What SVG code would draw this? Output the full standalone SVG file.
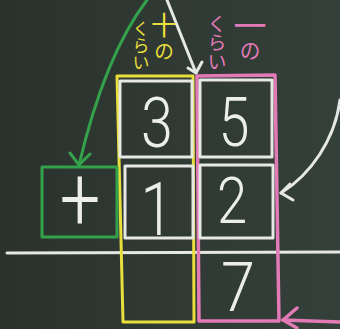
<svg xmlns="http://www.w3.org/2000/svg" width="340" height="329" viewBox="0 0 340 329">
<defs>
<linearGradient id="board" x1="0" y1="0" x2="1" y2="0">
<stop offset="0" stop-color="#2b322e"/>
<stop offset="0.5" stop-color="#303934"/>
<stop offset="1" stop-color="#34403a"/>
</linearGradient>
</defs>
<style>
.w{fill:none;stroke:#e6e8e4;stroke-width:3;stroke-linecap:round;stroke-linejoin:round}
.y{fill:none;stroke:#e9df3c;stroke-width:3;stroke-linejoin:round}
.p{fill:none;stroke:#e27ab6;stroke-width:3.5;stroke-linejoin:round;stroke-linecap:round}
.g{fill:none;stroke:#34a24a;stroke-width:3;stroke-linecap:round;stroke-linejoin:round}
.d{font-family:Roboto,"Open Sans","Liberation Sans",sans-serif;font-weight:300;fill:#eceee9;text-anchor:middle}
.jy{font-family:"Noto Sans CJK JP",sans-serif;fill:#e9df3c}
.jp{font-family:"Noto Sans CJK JP",sans-serif;fill:#e27ab6}
.v{writing-mode:vertical-rl;text-anchor:start}
</style>
<rect width="340" height="329" fill="url(#board)"/>

<g id="connectors">
<path class="g" d="M147,0 Q105,55 79,165"/>
<path class="g" d="M70,153 L79,165 L90,154"/>
<path class="w" d="M167,0 L196,73"/>
<path class="w" d="M188,68 L196,73 L202,62"/>
<path class="w" d="M340,100 C335,140 310,175 281,193"/>
<path class="w" d="M290,184 L281,193 L293,200"/>
<path class="p" d="M340,322 L283,320"/>
<path class="p" d="M297,308 L283,320 L297,328"/>
</g>

<g id="baseline">
<path class="w" d="M7,253 L340,252" stroke-width="3.5"/>
</g>

<g id="tens-column">
<path class="y" d="M117,76 L193,76 L194,322 L123,322 Z"/>
<text class="jy v" x="141" y="20" font-size="17">くらい</text>
<text class="jy v" x="164" y="12"><tspan font-size="26">十</tspan><tspan font-size="20" dy="3">の</tspan></text>
</g>

<g id="ones-column">
<path class="p" d="M197,76 L275,75 L279,321 L199,321 Z"/>
<text class="jp v" x="217" y="14" font-size="19">くらい</text>
<text class="jp v" x="250" y="9"><tspan font-size="33">一</tspan><tspan font-size="21" dy="-2">の</tspan></text>
</g>

<g id="cell-3">
<rect class="w" x="120" y="81" width="72" height="76"/>
<text class="d" transform="translate(157,147) scale(0.82,1)" font-size="70">3</text>
</g>
<g id="cell-5">
<rect class="w" x="200" y="80" width="72" height="77"/>
<text class="d" transform="translate(234,146) scale(0.82,1)" font-size="68">5</text>
</g>
<g id="cell-1">
<rect class="w" x="125" y="166" width="68" height="72"/>
<text class="d" transform="translate(157,235) scale(0.8,1)" font-size="74">1</text>
</g>
<g id="cell-2">
<rect class="w" x="200" y="165" width="73" height="73"/>
<text class="d" transform="translate(232,223) scale(0.85,1)" font-size="64">2</text>
</g>
<g id="cell-7">
<text class="d" transform="translate(238,311) scale(0.9,1)" font-size="68">7</text>
</g>
<g id="plus-box">
<rect class="g" x="42" y="167" width="75" height="70"/>
<text class="d" transform="translate(80,230) scale(1,1.25)" font-size="72">+</text>
</g>
</svg>
